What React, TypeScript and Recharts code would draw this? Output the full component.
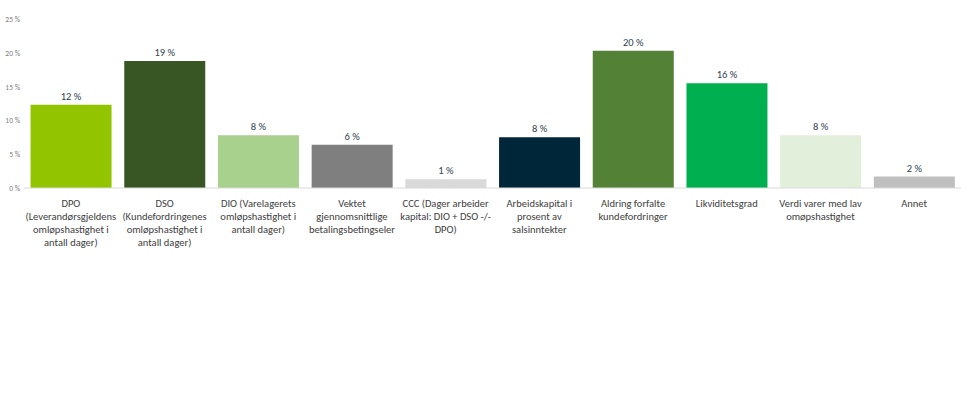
import { Bar, BarChart, Cell, LabelList, XAxis, YAxis } from 'recharts';

const categories = [
  'DPO\n(Leverandørsgjeldens\nomløpshastighet i\nantall dager)',
  'DSO\n(Kundefordringenes\nomløpshastighet i\nantall dager)',
  'DIO (Varelagerets\nomløpshastighet i\nantall dager)',
  'Vektet\ngjennomsnittlige\nbetalingsbetingseler',
  'CCC (Dager arbeider\nkapital: DIO + DSO -/-\nDPO)',
  'Arbeidskapital i\nprosent av\nsalsinntekter',
  'Aldring forfalte\nkundefordringer',
  'Likviditetsgrad',
  'Verdi varer med lav\nomøpshastighet',
  'Annet',
];
const values = [12.3, 18.8, 7.8, 6.4, 1.3, 7.5, 20.3, 15.5, 7.8, 1.7];
const colors = [
  '#92C400',
  '#375623',
  '#A9D18E',
  '#7F7F7F',
  '#D9D9D9',
  '#00263A',
  '#538135',
  '#00B050',
  '#E2EFDA',
  '#BFBFBF',
];
const yTicks = [0, 5, 10, 15, 20, 25];

const data = categories.map((name, i) => ({ name, value: values[i] }));
const font = "Carlito, Calibri, Lato, 'Liberation Sans', sans-serif";

function CategoryTick({ x, y, payload }: any) {
  const lines = String(payload.value).split('\n');
  return (
    <text x={x} y={y} textAnchor="middle" fill="#404040" fontSize={10.5} fontFamily={font}>
      {lines.map((line, i) => (
        <tspan key={i} x={x} dy={i === 0 ? 17 : 13}>
          {line}
        </tspan>
      ))}
    </text>
  );
}

function ValueTick({ x, y, payload }: any) {
  return (
    <text x={x} y={y} dy={3} textAnchor="end" fill="#808080" fontSize={7.5} fontFamily={font}>
      {`${payload.value} %`}
    </text>
  );
}

export default function App() {
  return (
    <div style={{ position: 'absolute', left: 0, top: 0, background: '#fff' }}>
      <BarChart
        width={961}
        height={417}
        data={data}
        margin={{ top: 19, right: 0, bottom: 0, left: 0 }}
        barCategoryGap="7%"
      >
        <XAxis
          dataKey="name"
          interval={0}
          height={229}
          tickLine={false}
          tickSize={0}
          axisLine={{ stroke: '#D9D9D9' }}
          tick={<CategoryTick />}
        />
        <YAxis
          domain={[0, 25]}
          ticks={yTicks}
          width={24}
          axisLine={false}
          tickLine={false}
          tickSize={2}
          tickMargin={2}
          tick={<ValueTick />}
        />
        <Bar dataKey="value" isAnimationActive={false}>
          {data.map((_, i) => (
            <Cell key={i} fill={colors[i]} />
          ))}
          <LabelList
            dataKey="value"
            position="top"
            offset={5}
            formatter={(v: any) => `${Math.round(Number(v))} %`}
            fill="#333F50"
            fontSize={10.5}
            fontFamily={font}
          />
        </Bar>
      </BarChart>
    </div>
  );
}
